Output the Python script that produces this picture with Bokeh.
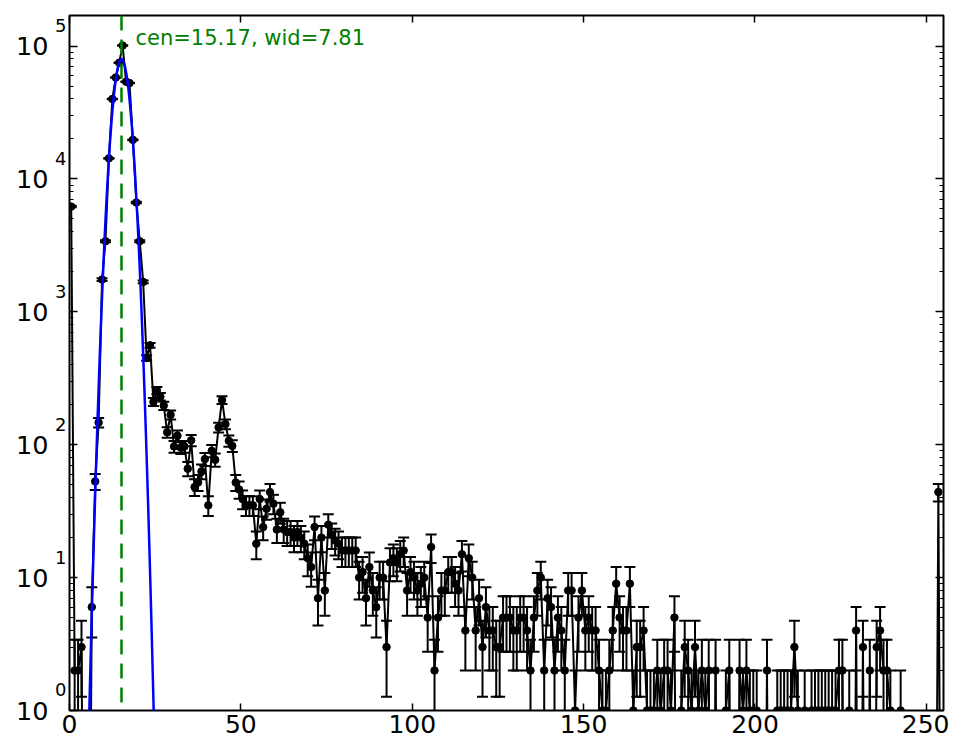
import numpy as np
from bokeh.plotting import figure
from bokeh.models import (Range1d, FixedTicker, LinearAxis, LogAxis, Span, Label,
                          CustomJSTickFormatter)
from bokeh.embed import file_html
from bokeh.resources import INLINE

# ---- histogram counts per channel (bin centres at channel + 0.5) ----
counts_000_049 = [6200, 2, 2, 3, 0, 0, 6, 53, 147, 1750,
                  3400, 14300, 40000, 58000, 75000, 101000, 54000, 52700, 19700, 6650,
                  3400, 1680, 450, 560, 210, 256, 230, 197, 124, 168,
                  97, 117, 95, 97, 66, 108, 48, 52, 63, 78,
                  35, 90, 77, 135, 217, 143, 107, 98, 52, 46]
counts_050_099 = [39, 35, 35, 35, 18, 39, 24, 33, 44, 36,
                  23, 31, 23, 22, 22, 20, 22, 20, 18, 14,
                  12, 24, 7, 20, 8, 25, 21, 19, 18, 16,
                  16, 16, 16, 16, 10, 11, 7, 12, 8, 6,
                  10, 10, 3, 13, 14, 13, 15, 16, 8, 11]
counts_100_149 = [10, 8, 9, 10, 5, 17, 2, 5, 8, 8,
                  11, 11, 9, 8, 15, 4, 14, 10, 4, 7,
                  3, 6, 4, 4, 3, 3, 5, 5, 5, 4,
                  4, 5, 5, 4, 2, 5, 8, 10, 2, 7,
                  6, 2, 5, 4, 2, 8, 8, 1, 5, 8]
counts_150_199 = [4, 5, 4, 4, 2, 1, 1, 2, 4, 9,
                  5, 4, 4, 9, 1, 3, 3, 4, 1, 1,
                  1, 2, 1, 2, 2, 1, 5, 0, 1, 3,
                  2, 1, 3, 1, 2, 1, 2, 0, 2, 0,
                  0, 1, 2, 0, 0, 2, 1, 2, 1, 1]
counts_200_254 = [1, 0, 0, 2, 0, 0, 1, 1, 1, 1,
                  1, 3, 1, 0, 1, 0, 1, 1, 1, 1,
                  1, 1, 1, 1, 2, 2, 0, 1, 0, 4,
                  0, 3, 0, 2, 0, 3, 4, 2, 2, 1,
                  0, 0, 1, 0, 0, 0, 0, 0, 0, 0,
                  0, 0, 0, 44, 0]

# ---- Gaussian fit parameters ----
fit_center = 15.17
fit_width = 7.81
fit_amplitude = 80000.0

x_ticks = [0, 50, 100, 150, 200, 250]
y_decades = [0, 1, 2, 3, 4, 5]

counts = np.array(counts_000_049 + counts_050_099 + counts_100_149 +
                  counts_150_199 + counts_200_254, dtype=float)
chan = np.arange(len(counts)) + 0.5
floor = 1e-3  # stand-in for log(0): drawn below the visible range

p = figure(width=949, height=744,
           x_range=Range1d(0, 255), y_range=Range1d(1, 1.7e5),
           y_axis_type="log", output_backend="svg", toolbar_location=None,
           min_border_left=69, min_border_right=6, min_border_top=15,
           min_border_bottom=34)
p.background_fill_color = "white"
p.border_fill_color = "white"
p.outline_line_color = "black"
p.outline_line_width = 2
p.xgrid.grid_line_color = None
p.ygrid.grid_line_color = None

# connecting line
p.line(chan, np.where(counts > 0, counts, floor), line_color="black", line_width=2)

# error bars (Poisson)
pos = counts > 0
xc = chan[pos]
yc = counts[pos]
err = np.sqrt(yc)
up = yc + err
lo = yc - err
p.segment(x0=xc, y0=np.where(lo > 0, lo, floor), x1=xc, y1=up,
          line_color="black", line_width=2)
p.scatter(xc, up, marker="dash", size=11, line_color="black", line_width=2)
p.scatter(xc[lo > 0], lo[lo > 0], marker="dash", size=11, line_color="black", line_width=2)
p.scatter(xc, yc, marker="circle", size=7.5, fill_color="black", line_color="black")

# Gaussian fit
xf = np.linspace(0, 40, 801)
yf = fit_amplitude * np.exp(-(xf - fit_center) ** 2 / fit_width)
p.line(xf, yf, line_color="#0000ff", line_width=2.5)

p.add_layout(Span(location=fit_center, dimension="height", line_color="#008000",
                  line_dash="15 9", line_width=2.5))

p.add_layout(Label(x=fit_center, y=1.7e5, x_units="data", y_units="data",
                   x_offset=14, y_offset=-22,
                   text=f"cen={fit_center:.2f}, wid={fit_width:.2f}",
                   text_color="#008000", text_font="DejaVu Sans",
                   text_font_size="21px", text_baseline="middle", text_align="left"))

# ---- axes ----
major_y = [10.0 ** k for k in y_decades]
minor_y = [m * 10.0 ** k for k in y_decades for m in range(2, 10)]

xa = p.xaxis[0]
xa.ticker = FixedTicker(ticks=x_ticks)
xa.axis_line_color = None
xa.major_tick_in = 7
xa.major_tick_out = 0
xa.major_tick_line_width = 1.5
xa.minor_tick_line_color = None
xa.major_label_text_font = "DejaVu Sans"
xa.major_label_text_font_size = "25px"
xa.major_label_text_color = "black"
xa.major_label_standoff = 4

# inner left axis: ticks + exponent (raised by trailing blank lines)
ya = p.yaxis[0]
ya.ticker = FixedTicker(ticks=major_y, minor_ticks=minor_y)
ya.formatter = CustomJSTickFormatter(
    code="return String(Math.round(Math.log10(tick))) + '\\n \\n ';")
ya.axis_line_color = None
ya.major_tick_in = 8
ya.major_tick_out = 0
ya.minor_tick_in = 4
ya.minor_tick_out = 0
ya.major_tick_line_width = 1.5
ya.minor_tick_line_width = 1.2
ya.major_label_text_font = "DejaVu Sans"
ya.major_label_text_font_size = "18px"
ya.major_label_text_line_height = 0.98
ya.major_label_text_color = "black"
ya.major_label_text_align = "left"
ya.major_label_standoff = 3

# outer left axis: the "10" base of each label
base = LogAxis(ticker=FixedTicker(ticks=major_y),
               formatter=CustomJSTickFormatter(code="return '10';"),
               axis_line_color=None, major_tick_line_color=None,
               minor_tick_line_color=None, major_tick_in=0, major_tick_out=0,
               major_label_text_font="DejaVu Sans",
               major_label_text_font_size="25.5px",
               major_label_text_color="black", major_label_standoff=4)
p.add_layout(base, "left")

blank = CustomJSTickFormatter(code="return '';")
top = LinearAxis(ticker=FixedTicker(ticks=x_ticks), formatter=blank,
                 axis_line_color=None,
                 major_tick_in=7, major_tick_out=0, major_tick_line_width=1.5,
                 minor_tick_line_color=None, major_label_text_font_size="8px",
                 major_label_standoff=0)
p.add_layout(top, "above")
right = LogAxis(ticker=FixedTicker(ticks=major_y, minor_ticks=minor_y),
                formatter=blank,
                axis_line_color=None, major_tick_in=8, major_tick_out=0,
                minor_tick_in=4, minor_tick_out=0, major_tick_line_width=1.5,
                minor_tick_line_width=1.2, major_label_text_font_size="8px",
                major_label_standoff=0)
p.add_layout(right, "right")

open("out.html", "w").write(file_html(p, INLINE))
